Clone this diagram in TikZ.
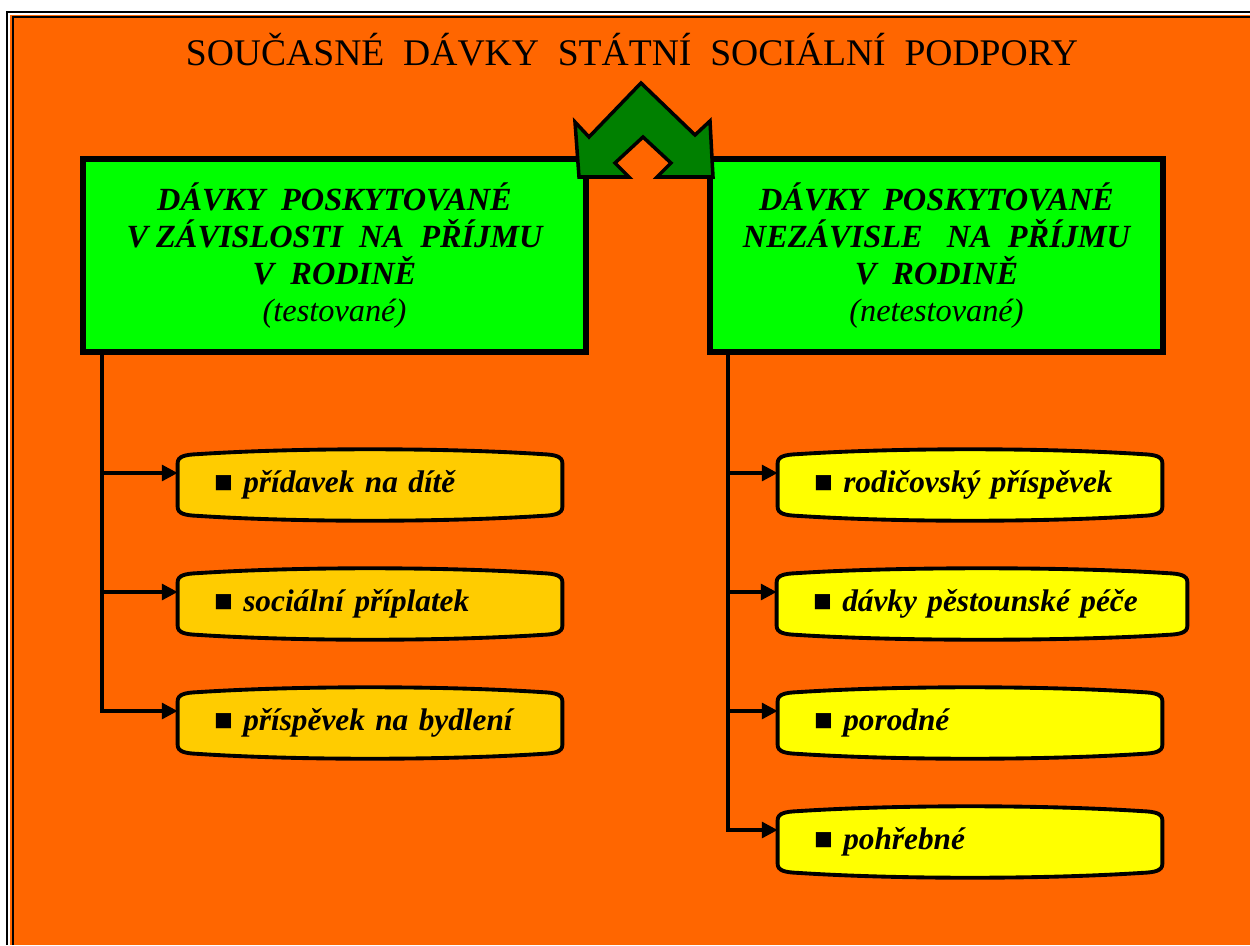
\documentclass[tikz,border=0pt]{standalone}
\usepackage{fontspec}
\setmainfont{Liberation Serif}
\usepackage{tikz}
\usetikzlibrary{arrows.meta,calc,backgrounds}
\definecolor{bgorange}{HTML}{FF6600}
\definecolor{boxgreen}{HTML}{00FF00}
\definecolor{arrowgreen}{HTML}{008000}
\definecolor{testyellow}{HTML}{FFCC00}
\definecolor{freeyellow}{HTML}{FFFF00}
\tikzset{%
    >={Triangle[length=9pt,width=9pt]}, % plain filled tips
    headbox/.style={draw,line width=3.2pt,fill=boxgreen,align=center,
    minimum height=38.6mm,inner sep=0pt,
    font=\fontsize{18.4}{21}\selectfont\bfseries\itshape},%
    itembox/.style={inner xsep=7.2mm,inner ysep=0pt,minimum height=14.2mm,
    text width=62.4mm,align=left,
    font=\fontsize{17.8}{20}\selectfont\bfseries\itshape},%
    capsule line/.style={line width=2.2pt},%
    link/.style={line width=2pt,->}%
    }
% yellow box with bulged top and bottom, drawn round a node
\newcommand{\capsule}[2]{%
    \draw[capsule line,fill=#2]
    ($(#1.north west)+(0,14)$) .. controls ($(#1.north west)+(0,7)$) and ($(#1.north west)+(8,5.5)$) .. ($(#1.north west)+(20,5)$)
    .. controls ($(#1.north west)+(120,-1.5)$) and ($(#1.north east)+(-120,-1.5)$) .. ($(#1.north east)+(-20,5)$)
    .. controls ($(#1.north east)+(-8,5.5)$) and ($(#1.north east)+(0,7)$) .. ($(#1.north east)+(0,14)$)
    -- ($(#1.south east)+(0,-14)$)
    .. controls ($(#1.south east)+(0,-7)$) and ($(#1.south east)+(-8,-5.5)$) .. ($(#1.south east)+(-20,-5)$)
    .. controls ($(#1.south east)+(-120,1.5)$) and ($(#1.south west)+(120,1.5)$) .. ($(#1.south west)+(20,-5)$)
    .. controls ($(#1.south west)+(8,-5.5)$) and ($(#1.south west)+(0,-7)$) .. ($(#1.south west)+(0,-14)$)
    -- cycle;}
\begin{document}
\begin{tikzpicture}[x=0.2mm,y=-0.2mm]
    \useasboundingbox (0,0) rectangle (1250,945);
    \begin{scope}[on background layer]
    \fill[white] (0,0) rectangle (1250,945);
    \fill[bgorange] (10,15) rectangle (1250,945);
    \draw[line width=1.2pt] (7,945) -- (7,12) -- (1250,12);
    \draw[line width=1.2pt] (13,945) -- (13,17) -- (1250,17);
    \end{scope}

    \node[font=\fontsize{21.4}{26}\selectfont] (title) at (632,50)
        {SOUČASNÉ\ \ DÁVKY\ \ STÁTNÍ\ \ SOCIÁLNÍ\ \ PODPORY};

    \node[headbox,minimum width=100.6mm] (tested) at (334.5,255.5)
        {DÁVKY\ \ POSKYTOVANÉ\\ V ZÁVISLOSTI\ \ NA\ \ PŘÍJMU\\ V\ \ RODINĚ\\ \mdseries(testované)};
    \node[headbox,minimum width=90.6mm] (untested) at (936.5,255.5)
        {DÁVKY\ \ POSKYTOVANÉ\\ NEZÁVISLE\ \ \ NA\ \ PŘÍJMU\\ V\ \ RODINĚ\\ \mdseries(netestované)};

    \draw[line width=2pt,fill=arrowgreen,line join=miter] (641,83) -- (695,135) -- (710,121)
        -- (713,177) -- (657,177) -- (671,163) -- (643,137) -- (615,163) -- (629,177)
        -- (579,177) -- (575,122) -- (589,137) -- cycle;

    \node[itembox] (child) at (370,485) {■ přídavek na dítě};
    \node[itembox] (supplement) at (370,604) {■ sociální příplatek};
    \node[itembox] (housing) at (370,723) {■ příspěvek na bydlení};

    \node[itembox] (parental) at (970,485) {■ rodičovský příspěvek};
    \node[itembox,text width=67.6mm] (foster) at (982,604) {■ dávky pěstounské péče};
    \node[itembox] (birth) at (970,723) {■ porodné};
    \node[itembox] (funeral) at (970,842) {■ pohřebné};

    \begin{scope}[on background layer]
    \foreach \n in {child,supplement,housing} {\capsule{\n}{testyellow}}
    \foreach \n in {parental,foster,birth,funeral} {\capsule{\n}{freeyellow}}
    \end{scope}

    \coordinate (tleft) at ($(tested.south west)+(22,0)$);
    \coordinate (uleft) at ($(untested.south west)+(21,0)$);
    \foreach \n in {child,supplement,housing}
        \draw[link] (tleft) |- ([yshift=2.4mm]\n.west);
    \foreach \n in {parental,foster,birth,funeral}
        \draw[link] (uleft) |- ([yshift=2.4mm]\n.west);
\end{tikzpicture}
\end{document}
